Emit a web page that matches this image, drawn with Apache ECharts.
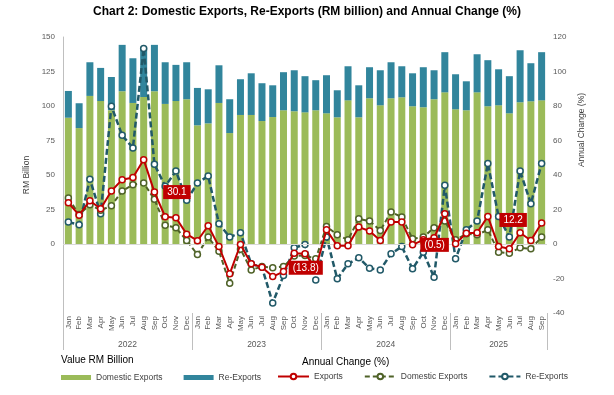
<!DOCTYPE html>
<html><head><meta charset="utf-8">
<script src="https://cdn.jsdelivr.net/npm/echarts@6/dist/echarts.min.js"></script>
<style>html,body{margin:0;padding:0;background:#fff}#c{width:614px;height:395px}</style>
</head><body><div id="c"></div>
<script>
const monthLabels = [
 'Jan','Feb','Mar','Apr','May','Jun','Jul','Aug','Sep','Oct','Nov','Dec',
 'Jan','Feb','Mar','Apr','May','Jun','Jul','Aug','Sep','Oct','Nov','Dec',
 'Jan','Feb','Mar','Apr','May','Jun','Jul','Aug','Sep','Oct','Nov','Dec',
 'Jan','Feb','Mar','Apr','May','Jun','Jul','Aug','Sep'];
const years = ['2022','2023','2024','2025'];
const monthsPerYear = [12,12,12,9];

const domesticValue = [91.5,84.0,107.3,103.6,97.0,110.7,102.2,106.5,110.7,101.5,103.6,104.9,
 86.0,87.4,102.2,80.4,93.5,93.5,89.1,92.0,96.9,96.2,95.4,96.9,
 94.7,91.8,104.1,91.8,105.6,100.5,105.6,106.3,99.8,99.1,104.9,109.9,
 97.6,96.9,109.9,99.8,100.5,94.7,102.7,103.4,104.1];
const reExportValue = [19.4,18.0,24.4,24.0,24.0,33.6,32.4,36.0,33.6,30.2,26.2,26.8,
 27.1,24.7,27.3,24.5,25.9,30.2,27.4,23.0,27.6,29.7,26.2,21.8,
 27.6,19.6,24.7,23.2,22.5,25.4,26.1,22.5,23.9,29.0,21.0,29.1,
 25.4,21.0,27.6,33.4,26.1,26.9,37.7,27.6,34.9];
const exportsChange = [23.9,16.7,25.1,20.4,30.7,37.3,38.5,48.9,30.1,15.8,15.2,5.7,
 1.9,10.6,-1.5,-17.3,-0.3,-11.5,-13.5,-18.9,-16.0,-5.3,-5.7,-13.8,
 8.2,-1.0,-1.0,9.8,7.5,2.0,12.7,12.7,-0.5,2.4,3.6,17.5,
 0.1,6.3,6.5,16.0,-1.5,-2.8,6.5,2.0,12.2];
const domesticChange = [26.6,17.1,22.8,19.5,22.2,30.7,34.4,35.3,25.9,10.9,9.4,2.0,
 -6.1,4.0,-4.2,-22.8,-3.0,-15.0,-13.1,-13.8,-13.1,-7.0,-6.7,-8.6,
 10.2,5.3,2.4,14.6,13.3,7.8,18.5,15.6,3.0,4.0,9.4,13.3,
 2.4,5.9,5.3,8.2,-4.8,-5.3,-2.2,-2.8,4.0];
const reExportChange = [12.7,11.2,37.5,17.5,79.9,63.0,55.7,113.4,46.2,33.5,42.3,25.3,
 35.3,39.4,11.7,4.0,6.5,-11.5,-13.5,-34.2,-18.3,-2.2,-0.3,-20.8,
 4.0,-20.2,-11.5,-8.0,-14.0,-15.0,-5.7,-1.5,-14.4,-4.8,-19.3,34.0,
 -8.6,8.2,13.3,46.6,16.0,4.0,42.3,23.4,46.6];
const labelledPoints = [8,23,32,44];

// year boundaries and label centres derived from months per year
const yearBounds = [0];
monthsPerYear.forEach(m => yearBounds.push(yearBounds[yearBounds.length-1] + m));
const yearCentres = years.map((y,i) => (yearBounds[i] + yearBounds[i+1]) / 2);
const nMonths = yearBounds[yearBounds.length-1];

const fmtPct = v => v < 0 ? '(' + (-v).toFixed(1) + ')' : v.toFixed(1);
const labelStyles = {
  8: {position:'right', distance:5},
  23: {position:'inside', offset:[-10,0]},
  32: {position:'right', distance:4},
  44: {position:'left', distance:11, offset:[0,-3]}
};
const exportData = exportsChange.map((v,i) => {
  if (labelledPoints.indexOf(i) < 0) return v;
  return {value:v, label:Object.assign({show:true}, labelStyles[i])};
});

const C = {green:'#9BBB59', teal:'#31859C', red:'#C00000', olive:'#4F6228', dteal:'#215968', axis:'#595959'};
const F = 'Liberation Sans, Arial, sans-serif';

const chart = echarts.init(document.getElementById('c'), null, {renderer:'canvas'});
chart.setOption({
  animation:false,
  textStyle:{fontFamily:F},
  title:[
    {text:'Chart 2: Domestic Exports, Re-Exports (RM billion) and Annual Change (%)', left:'center', top:6, padding:0,
     textStyle:{fontSize:12, fontWeight:'bold', color:'#000', fontFamily:F}},
    {text:'Value RM Billion', left:61, top:355, padding:0, textStyle:{fontSize:10, fontWeight:'normal', color:'#000', fontFamily:F}},
    {text:'Annual Change (%)', left:302, top:357, padding:0, textStyle:{fontSize:10, fontWeight:'normal', color:'#000', fontFamily:F}}
  ],
  legend:[
    {left:61, top:373, padding:0, itemWidth:30, itemHeight:5, itemGap:21, icon:'rect',
     data:['Domestic Exports','Re-Exports'], textStyle:{fontSize:8.5, color:'#404040', fontFamily:F}, selectedMode:false},
    {left:277, top:372, padding:0, itemWidth:31, itemHeight:7, itemGap:21,
     data:['Exports','Domestic Exports %','Re-Exports %'], formatter:n => n.replace(' %',''),
     textStyle:{fontSize:8.5, color:'#404040', fontFamily:F}, selectedMode:false}
  ],
  grid:{left:63, right:67, top:37, bottom:82, containLabel:false},
  xAxis:[
    {type:'category', data:monthLabels, boundaryGap:true, axisLine:{show:false, onZero:false}, axisTick:{show:false},
     axisLabel:{rotate:90, interval:0, fontSize:8, margin:3, color:C.axis, fontFamily:F}},
    {type:'value', min:0, max:nMonths, position:'bottom', axisLine:{show:false, onZero:false}, splitLine:{show:false},
     axisTick:{show:true, inside:false, customValues:yearBounds, length:37, lineStyle:{color:'#BFBFBF'}},
     axisLabel:{customValues:yearCentres, margin:27, fontSize:8.5, color:C.axis, fontFamily:F,
       formatter:v => { const i = yearCentres.indexOf(v); return i >= 0 ? years[i] : ''; }}}
  ],
  yAxis:[
    {type:'value', min:-50, max:150, interval:25, axisLine:{show:true, onZero:false, lineStyle:{color:'#BFBFBF'}}, axisTick:{show:false},
     splitLine:{show:false}, axisLabel:{fontSize:8, margin:8, color:C.axis, fontFamily:F, formatter:v => v < 0 ? '' : v},
     name:'RM Billion', nameLocation:'middle', nameRotate:90, nameGap:20, nameTextStyle:{fontSize:8.5, color:'#404040', fontFamily:F}},
    {type:'value', min:-40, max:120, interval:20, position:'right', axisLine:{show:false, onZero:false}, axisTick:{show:false},
     splitLine:{show:false}, axisLabel:{fontSize:8, margin:6, color:C.axis, fontFamily:F},
     name:'Annual Change (%)', nameLocation:'middle', nameRotate:90, nameGap:22,
     nameTextStyle:{fontSize:8.5, color:'#404040', fontFamily:F, padding:[0,0,0,90]}}
  ],
  series:[
    {name:'Domestic Exports', type:'bar', stack:'v', data:domesticValue, barWidth:7, itemStyle:{color:C.green},
     markLine:{silent:true, symbol:'none', label:{show:false}, lineStyle:{color:'#D9D9D9', type:'solid', width:1}, data:[{yAxis:0}]}},
    {name:'Re-Exports', type:'bar', stack:'v', data:reExportValue, barWidth:7, itemStyle:{color:C.teal}},
    {name:'Re-Exports %', type:'line', yAxisIndex:1, data:reExportChange, symbol:'circle', symbolSize:6,
     lineStyle:{color:C.dteal, width:2.5, type:[6,3]}, itemStyle:{color:'#fff', borderColor:C.dteal, borderWidth:1.5}, z:3},
    {name:'Domestic Exports %', type:'line', yAxisIndex:1, data:domesticChange, symbol:'circle', symbolSize:6,
     lineStyle:{color:C.olive, width:2, type:[5,3]}, itemStyle:{color:'#fff', borderColor:C.olive, borderWidth:1.5}, z:4},
    {name:'Exports', type:'line', yAxisIndex:1, data:exportData, symbol:'circle', symbolSize:6,
     lineStyle:{color:C.red, width:2}, itemStyle:{color:'#fff', borderColor:C.red, borderWidth:1.5}, z:5,
     label:{show:false, formatter:p => fmtPct(p.value), backgroundColor:C.red, color:'#fff', fontSize:10,
       padding:[2,4], fontFamily:F}}
  ]
});
</script></body></html>
